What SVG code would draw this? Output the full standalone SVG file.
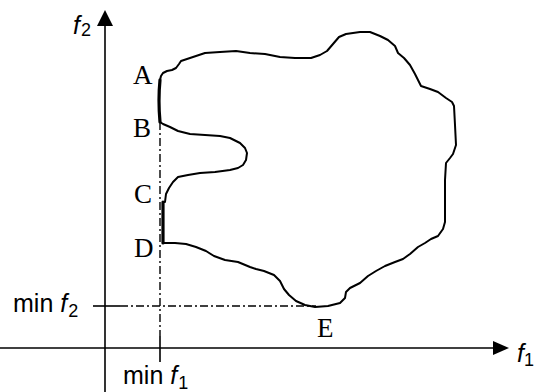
<svg xmlns="http://www.w3.org/2000/svg" width="535" height="392" viewBox="0 0 535 392">
<style>
.ax{stroke:#000;stroke-width:1.6;fill:none}
.dd{stroke:#000;stroke-width:1.4;fill:none;stroke-dasharray:8,3,2,3}
.sh{stroke:#000;stroke-width:2;fill:none;stroke-linejoin:round;stroke-linecap:round}
.th{stroke:#000;stroke-width:3.2;fill:none;stroke-linecap:round}
.pt{font-family:"Liberation Serif",serif;font-size:27px;fill:#000}
.lb{font-family:"Liberation Sans",Arial,sans-serif;font-size:25px;fill:#000}
.it{font-style:italic}
.sb{font-size:18px}
</style>
<rect width="535" height="392" fill="#fff"/>
<g id="connectors">
<line class="ax" x1="105" y1="392" x2="105" y2="24"/>
<polygon points="105,10 97,26 113,26" fill="#000"/>
<line class="ax" x1="0" y1="348" x2="495" y2="348"/>
<polygon points="509,348 493,341 493,355" fill="#000"/>
<line class="ax" x1="93" y1="306" x2="120" y2="306"/>
<line class="dd" x1="120" y1="306" x2="316" y2="306"/>
<line class="dd" x1="160" y1="122" x2="160" y2="336"/>
<line class="ax" x1="160" y1="336" x2="160" y2="362"/>
</g>
<g id="region">
<path class="sh" d="M160,80 L161,76 L163,73 L167,71 L172,70 L176,68 L179,64 L181,61 L190,58 L205,53 L220,52 L236,51 L250,53 L265,54 L280,57 L295,58 L311,58 L320,55 L327,51 L333,44 L339,37 L346,34 L360,32 L370,32 L380,36 L388,40 L395,46 L398,53 L404,58 L410,65 L415,74 L421,86 L430,89 L438,92 L446,98 L452,102 L454,106 L455,125 L456,145 L453,154 L450,158 L446,163 L445,180 L445,200 L445,222 L443,229 L438,236 L431,239 L425,243 L418,247 L410,254 L403,259 L395,262 L385,266 L376,271 L368,276 L360,283 L350,288 L346,292 L345,298 L340,303 L328,306 L315,307 L305,305 L296,301 L289,295 L284,289 L280,281 L274,275 L264,271 L256,269 L250,267 L238,262 L225,260 L214,256 L206,251 L196,247 L186,244 L175,243 L163,243"/>
<path class="sh" d="M163,202 L165,202 L166,194 L169,188 L173,182 L178,177 L188,175 L200,173 L215,172 L230,170 L238,168 L243,165 L246,160 L247,153 L245,148 L240,143 L230,138 L220,136 L205,135 L190,134 L178,131 L170,127 L163,124 L160,122"/>
<path class="th" d="M160,80 Q158,100 160,122"/>
<line class="th" x1="163" y1="202" x2="163" y2="243"/>
</g>
<g id="A"><text class="pt" x="133" y="84">A</text></g>
<g id="B"><text class="pt" x="133" y="137">B</text></g>
<g id="C"><text class="pt" x="134" y="203">C</text></g>
<g id="D"><text class="pt" x="134" y="257">D</text></g>
<g id="E"><text class="pt" x="317" y="337">E</text></g>
<g id="labels">
<text class="lb" x="73" y="34"><tspan class="it">f</tspan><tspan class="sb" dx="1" dy="2">2</tspan></text>
<text class="lb" x="13" y="312">min <tspan class="it">f</tspan><tspan class="sb" dx="1" dy="5">2</tspan></text>
<text class="lb" x="123" y="384">min <tspan class="it">f</tspan><tspan class="sb" dx="1" dy="5">1</tspan></text>
<text class="lb" x="517" y="362"><tspan class="it">f</tspan><tspan class="sb" dx="0" dy="4">1</tspan></text>
</g>
</svg>
